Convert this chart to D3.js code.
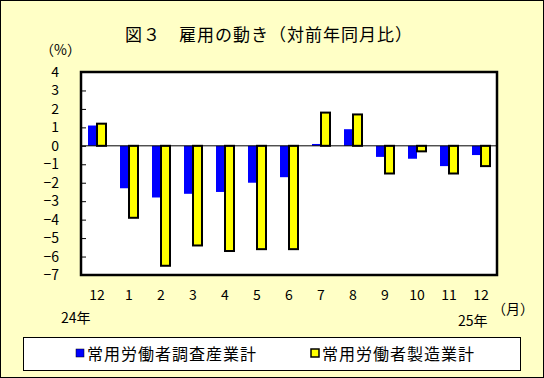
<!DOCTYPE html>
<html><head><meta charset="utf-8">
<script src="https://cdn.jsdelivr.net/npm/d3@7"></script>
<style>body{margin:0;background:#fff}svg{display:block}</style>
</head><body>
<script>
const categories = ["12","1","2","3","4","5","6","7","8","9","10","11","12"];
const seriesNames = ["常用労働者調査産業計","常用労働者製造業計"];
const allIndustry = [1.1,-2.3,-2.8,-2.6,-2.5,-2.0,-1.7,0.1,0.9,-0.6,-0.7,-1.1,-0.5];
const manufacturing = [1.2,-3.9,-6.5,-5.4,-5.7,-5.6,-5.6,1.8,1.7,-1.5,-0.3,-1.5,-1.1];
const yTicks = [4,3,2,1,0,-1,-2,-3,-4,-5,-6,-7];
const colors = ["#0000FF","#FFFF00"];

const W=544,H=378;
const font = "'Noto Sans CJK JP', sans-serif";
const svg = d3.select("body").append("svg").attr("width",W).attr("height",H);
svg.append("rect").attr("x",0.5).attr("y",0.5).attr("width",W-1).attr("height",H-1)
  .attr("fill","#FFFFC6").attr("stroke","#000").attr("stroke-width",1);

svg.append("text").attr("x",269).attr("y",41).attr("text-anchor","middle")
  .attr("font-family",font).attr("font-size",17).attr("letter-spacing",1).text("図３　雇用の動き（対前年同月比）");
svg.append("text").attr("x",40).attr("y",55).attr("font-family",font).attr("font-size",14).text("（%）");

const L=81,R=497,T=72,B=275;
const x = d3.scaleBand().domain(d3.range(categories.length)).range([L,R]);
const y = d3.scaleLinear().domain([-7,4]).range([B,T]);
svg.append("rect").attr("x",L).attr("y",T).attr("width",R-L).attr("height",B-T).attr("fill","#fff");

// inner ticks
svg.append("g").attr("transform",`translate(${L},0)`)
  .call(d3.axisRight(y).tickValues(yTicks).tickSize(5).tickFormat(""))
  .call(g=>g.select(".domain").remove())
  .selectAll("line").attr("stroke","#000");

const bw=9;
const g=svg.append("g");
g.selectAll(".b1").data(allIndustry).join("rect")
  .attr("x",(d,i)=>x(i)+x.bandwidth()/2-bw)
  .attr("y",d=>y(Math.max(0,d))).attr("width",bw)
  .attr("height",d=>Math.abs(y(d)-y(0))).attr("fill",colors[0]);
g.selectAll(".b2").data(manufacturing).join("rect")
  .attr("x",(d,i)=>x(i)+x.bandwidth()/2)
  .attr("y",d=>y(Math.max(0,d))).attr("width",bw)
  .attr("height",d=>Math.abs(y(d)-y(0))).attr("fill",colors[1])
  .attr("stroke","#000").attr("stroke-width",2);

svg.append("line").attr("x1",L).attr("x2",R).attr("y1",y(0)).attr("y2",y(0)).attr("stroke","#000").attr("stroke-width",1);
svg.append("rect").attr("x",L).attr("y",T).attr("width",R-L).attr("height",B-T)
  .attr("fill","none").attr("stroke","#000").attr("stroke-width",2.5);

// y axis labels
const ya = svg.append("g").attr("transform",`translate(${L-19},0)`)
  .call(d3.axisLeft(y).tickValues(yTicks).tickSize(0).tickFormat(d=>d<0?"\u2212"+Math.abs(d):d));
ya.select(".domain").remove();
ya.selectAll("text").attr("font-family",font).attr("font-size",14).attr("fill","#000").attr("text-anchor","end").attr("dx",0);

// x axis labels
const xa = svg.append("g").attr("transform",`translate(0,${B+12})`)
  .call(d3.axisBottom(x).tickSize(0).tickFormat(i=>categories[i]));
xa.select(".domain").remove();
xa.selectAll("text").attr("font-family",font).attr("font-size",14).attr("fill","#000");

svg.append("text").attr("x",61).attr("y",323).attr("font-family",font).attr("font-size",14).text("24年");
svg.append("text").attr("x",458).attr("y",326).attr("font-family",font).attr("font-size",14).text("25年");
svg.append("text").attr("x",492).attr("y",314).attr("font-family",font).attr("font-size",14).text("（月）");

// legend
svg.append("rect").attr("x",23.5).attr("y",337.5).attr("width",497).attr("height",33)
  .attr("fill","#fff").attr("stroke","#000").attr("stroke-width",1);
const lx=[75,310];
seriesNames.forEach((n,i)=>{
  svg.append("rect").attr("x",lx[i]+1).attr("y",349).attr("width",8).attr("height",8)
    .attr("fill",colors[i]).attr("stroke","#000").attr("stroke-width",i?1.5:0.5);
  svg.append("text").attr("x",lx[i]+12).attr("y",360).attr("font-family",font).attr("font-size",16).attr("letter-spacing",1).text(n);
});
</script>
</body></html>
